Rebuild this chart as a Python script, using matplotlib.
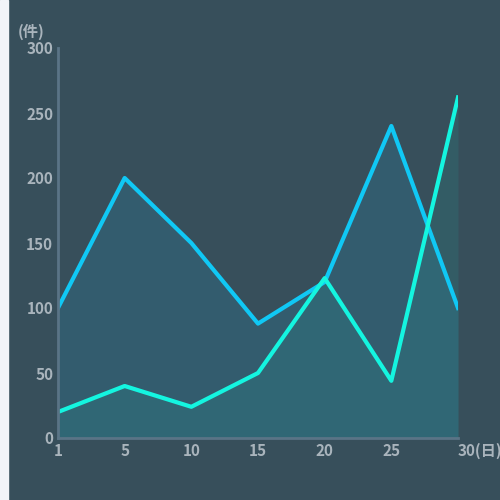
import matplotlib.pyplot as plt
import matplotlib.patches as mpatches
import numpy as np

plt.rcParams['font.family'] = ['Noto Sans CJK SC', 'DejaVu Sans']

days = ["1", "5", "10", "15", "20", "25", "30"]
series_a = [100, 200, 150, 88, 120, 240, 100]
series_b = [20, 40, 24, 50, 123, 44, 262]
yticks = [0, 50, 100, 150, 200, 250, 300]

bg = "#374f5b"
fig = plt.figure(figsize=(5, 5), dpi=100, facecolor=bg)
fig.patches.append(mpatches.Rectangle((0, 0), 8 / 500, 1, transform=fig.transFigure,
                                      color="#f2f4f8", zorder=0))
ax = fig.add_axes([58 / 500, 62 / 500, 400 / 500, 390 / 500])
ax.set_facecolor(bg)

x = np.arange(len(days))
ax.fill_between(x, series_a, 0, color="#2a7d9a", alpha=0.3, lw=0)
ax.fill_between(x, series_b, 0, color="#1fa8a0", alpha=0.15, lw=0)
ax.plot(x, series_a, color="#10c8f5", lw=3)
ax.plot(x, series_b, color="#14f5e0", lw=3)

ax.set_xlim(0, len(days) - 1)
ax.set_ylim(0, 300)
ax.set_xticks(x)
ax.set_yticks(yticks)
ax.set_xticklabels(days[:-1] + ["30(日)"])
for s in ["top", "right"]:
    ax.spines[s].set_visible(False)
for s in ["left", "bottom"]:
    ax.spines[s].set_color("#5a7486")
    ax.spines[s].set_linewidth(2)
ax.tick_params(length=0, colors="#a9b4bc", labelsize=11)
for lab in ax.get_xticklabels() + ax.get_yticklabels():
    lab.set_fontweight("bold")
last = ax.get_xticklabels()[-1]
last.set_horizontalalignment("left")
last.set_x(len(days) - 1.12)
ax.text(-0.1, 1.02, "(件)", transform=ax.transAxes, color="#a9b4bc",
        fontsize=11, fontweight="bold", va="bottom")

fig.savefig("out.png", facecolor=bg)
